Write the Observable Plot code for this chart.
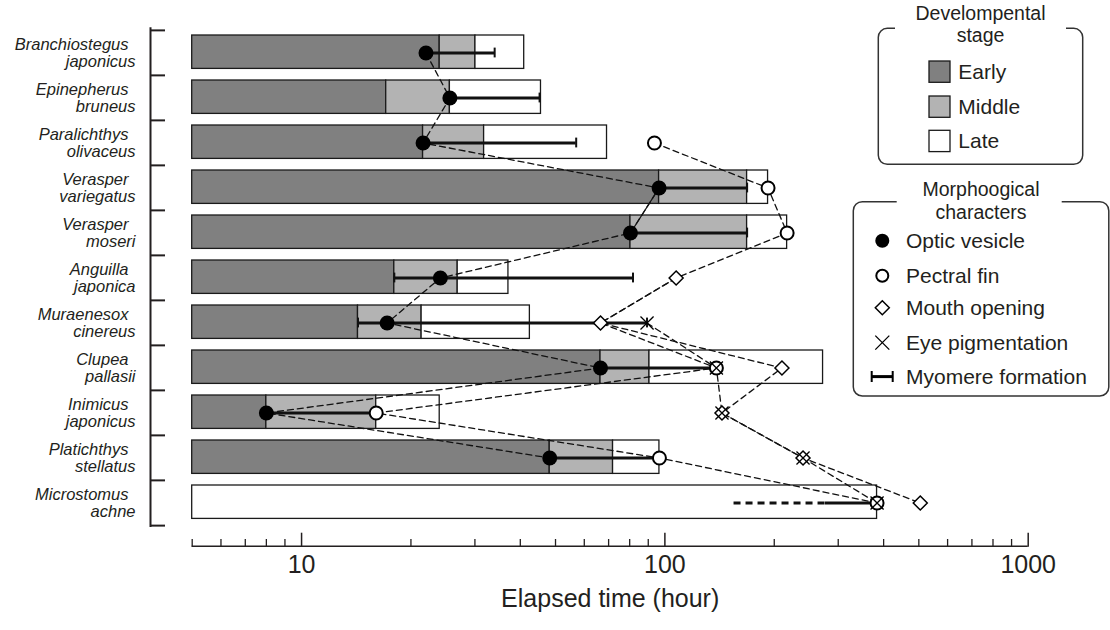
<!DOCTYPE html>
<html>
<head>
<meta charset="utf-8">
<script src="https://cdn.jsdelivr.net/npm/d3@7"></script>
<script src="https://cdn.jsdelivr.net/npm/@observablehq/plot@0.6"></script>
<style>
  body { margin: 0; background: #fff; }
  #chart { position: relative; width: 1110px; height: 630px; font-family: "Liberation Sans", Arial, sans-serif; color: #231f20; }
  #chart svg { position: absolute; left: 0; top: 0; overflow: visible; }
</style>
</head>
<body>
<div id="chart"></div>
<script>
// Species, top to bottom
const species = [
  "Branchiostegus japonicus", "Epinepherus bruneus", "Paralichthys olivaceus",
  "Verasper variegatus", "Verasper moseri", "Anguilla japonica", "Muraenesox cinereus",
  "Clupea pallasii", "Inimicus japonicus", "Platichthys stellatus", "Microstomus achne"
];

// Developmental stage boundaries (hours after fertilization)
const earlyEnd  = [24.0, 17.1, 21.6, 96.4, 80.4, 18.0, 14.3, 66.5, 8.0, 48.2, null];
const middleEnd = [30.1, 25.6, 31.8, 168.4, 168.4, 26.9, 21.4, 90.7, 16.05, 72.0, null];
const lateEnd   = [41.0, 45.6, 69.3, 192.3, 217.0, 37.1, 42.5, 272.5, 24.0, 96.6, 383.7];

// Onset of morphological characters (hours)
const opticVesicle    = [22.0, 25.6, 21.6, 96.4, 80.4, 24.1, 17.2, 66.5, 8.0, 48.2, null];
const pectoralFin     = [null, null, 93.6, 192.3, 217.0, 107.4, 66.5, 138.6, 16.05, 96.6, 383.7];
const mouthOpening    = [null, null, null, null, null, 107.4, 66.5, 210.0, 143.6, 240.0, 504.6];
const eyePigmentation = [null, null, null, null, null, null, 89.3, 138.6, 143.6, 240.0, 383.7];

// Myomere formation period (hours); the uncertain early part is dashed
const myomereStart     = [22.0, 25.6, 21.6, 96.4, 80.4, 18.0, 14.3, 66.5, 8.0, 48.2, 276.6];
const myomereEnd       = [34.0, 45.2, 57.0, 168.4, 168.4, 81.7, 89.3, 138.6, 16.05, 96.6, 383.7];
const myomereUncertain = [null, null, null, null, null, null, null, null, null, null, 155.0];

// Optic vesicle links drawn solid (same genus)
const solidOpticPair = ["Verasper variegatus", "Verasper moseri"];

const stages = ["Early", "Middle", "Late"];
const stageFills = ["#808080", "#b3b3b3", "#ffffff"];
const characters = ["Optic vesicle", "Pectral fin", "Mouth opening", "Eye pigmentation", "Myomere formation"];

const majorTicks = [10, 100, 1000];
const minorTicks = [5, 6, 7, 8, 9, 20, 30, 40, 50, 60, 70, 80, 90, 200, 300, 400, 500, 600, 700, 800, 900];
const xTitle = "Elapsed time (hour)";

const xMin = 5, xMax = 1000;
const ink = "#231f20";

// ---- derived tables ----
const stageRows = species.flatMap((s, i) => {
  const rows = [];
  if (earlyEnd[i] != null) rows.push({species: s, stage: "Early", from: xMin, to: earlyEnd[i]});
  if (middleEnd[i] != null) rows.push({species: s, stage: "Middle", from: earlyEnd[i], to: middleEnd[i]});
  rows.push({species: s, stage: "Late", from: middleEnd[i] ?? xMin, to: lateEnd[i]});
  return rows;
});

const seriesValues = [
  ["Optic vesicle", opticVesicle],
  ["Pectral fin", pectoralFin],
  ["Mouth opening", mouthOpening],
  ["Eye pigmentation", eyePigmentation]
];
const points = seriesValues.flatMap(([name, values]) =>
  species.map((s, i) => ({series: name, species: s, i, value: values[i]})).filter(d => d.value != null)
);
const of = name => points.filter(d => d.series === name);

const myomere = species.map((s, i) => ({species: s, start: myomereStart[i], end: myomereEnd[i], uncertain: myomereUncertain[i]}));
const myoCaps = [
  ...myomere.filter(d => d.uncertain == null).map(d => ({species: d.species, x: d.start})),
  ...myomere.map(d => ({species: d.species, x: d.end}))
];

// ---- layout ----
const W = 1110, H = 630;
const mTop = 28.3, mBottom = 104, mLeft = 191.7, mRight = 82.3;
const frameH = H - mTop - mBottom;
const step = frameH / species.length;
const axisGap = 20.7;          // distance of the time axis below the last row
const bracketX = 41.7;         // species bracket, px left of the time origin
const bracketTick = 15;        // length of the bracket ticks

const dash = {stroke: "#111", strokeWidth: 1.3, strokeDasharray: "6,4", fill: "none"};
const bracketTicks = {y: d => d, x1: xMin, x2: xMin, insetLeft: -bracketX, insetRight: bracketX - bracketTick, stroke: ink, strokeWidth: 2};

const plot = Plot.plot({
  width: W, height: H,
  marginTop: mTop, marginBottom: mBottom, marginLeft: mLeft, marginRight: mRight,
  style: {fontFamily: "'Liberation Sans', Arial, sans-serif", color: ink, background: "transparent", overflow: "visible"},
  x: {type: "log", domain: [xMin, xMax], axis: null},
  y: {type: "band", domain: species, padding: 0, axis: null},
  color: {domain: stages, range: stageFills},
  marks: [
    // species bracket
    Plot.ruleX([xMin], {dx: -bracketX, stroke: ink, strokeWidth: 2, strokeLinecap: "square"}),
    Plot.ruleY(species, {...bracketTicks, dy: -step / 2}),
    Plot.ruleY(species.slice(-1), {...bracketTicks, dy: step / 2}),

    // species names (genus / epithet)
    Plot.text(species, {y: d => d, text: d => d.split(" ")[0], frameAnchor: "left", textAnchor: "end", dx: -63.7, dy: -8.5, fontSize: 16.5, fontStyle: "italic", fill: ink}),
    Plot.text(species, {y: d => d, text: d => d.split(" ")[1], frameAnchor: "left", textAnchor: "end", dx: -56.7, dy: 8.5, fontSize: 16.5, fontStyle: "italic", fill: ink}),

    // developmental stage bars
    Plot.barX(stageRows, {y: "species", x1: "from", x2: "to", fill: "stage", stroke: "#1a1a1a", strokeWidth: 1.3, insetTop: 5, insetBottom: 6.6}),

    // myomere formation
    Plot.ruleY(myomere.filter(d => d.uncertain != null), {y: "species", x1: "uncertain", x2: "start", stroke: "#111", strokeWidth: 3, strokeDasharray: "7,5"}),
    Plot.ruleY(myomere, {y: "species", x1: "start", x2: "end", stroke: "#111", strokeWidth: 3}),
    Plot.tickX(myoCaps, {x: "x", y: "species", insetTop: 17.6, insetBottom: 17.6, stroke: "#111", strokeWidth: 2}),

    // links between species for each character
    Plot.line(points, {x: "value", y: "species", z: "series", ...dash}),
    Plot.line(of("Optic vesicle").filter(d => solidOpticPair.includes(d.species)), {x: "value", y: "species", stroke: "#111", strokeWidth: 1.3}),

    // character markers
    Plot.dot(of("Optic vesicle"), {x: "value", y: "species", r: 7.5, fill: "#000", stroke: "none"}),
    Plot.dot(of("Pectral fin").filter(d => mouthOpening[d.i] !== d.value), {x: "value", y: "species", r: 6.5, fill: "#fff", stroke: "#000", strokeWidth: 2}),
    Plot.dot(of("Mouth opening"), {x: "value", y: "species", symbol: "diamond2", r: 6.3, fill: "#fff", stroke: "#000", strokeWidth: 1.5}),
    Plot.dot(of("Eye pigmentation"), {x: "value", y: "species", symbol: "times", r: 6, stroke: "#000", strokeWidth: 1.3}),

    // time axis
    Plot.ruleY(species.slice(-1), {y: d => d, x1: xMin, x2: xMax, dy: step / 2 + axisGap, stroke: ink, strokeWidth: 1.5}),
    Plot.ruleX(minorTicks, {x: d => d, insetTop: frameH + axisGap - 7.7, insetBottom: -axisGap, stroke: ink, strokeWidth: 1.3}),
    Plot.ruleX(majorTicks, {x: d => d, insetTop: frameH + axisGap - 14, insetBottom: -axisGap, stroke: ink, strokeWidth: 1.5}),
    Plot.text(majorTicks, {x: d => d, text: d => String(d), frameAnchor: "bottom", dy: 46.5, fontSize: 25, fill: ink}),
    Plot.text([xTitle], {frameAnchor: "bottom", dy: 80, fontSize: 25, fill: ink})
  ]
});
document.getElementById("chart").appendChild(plot);

// ---- legends ----
const leg = d3.select("#chart").append("svg")
  .attr("width", W).attr("height", H)
  .style("font-family", "'Liberation Sans', Arial, sans-serif")
  .style("pointer-events", "none");

function frameWithGap(x0, y0, x1, y1, g0, g1, r) {
  return `M${g0},${y0}H${x0 + r}A${r},${r} 0 0 0 ${x0},${y0 + r}V${y1 - r}A${r},${r} 0 0 0 ${x0 + r},${y1}` +
         `H${x1 - r}A${r},${r} 0 0 0 ${x1},${y1 - r}V${y0 + r}A${r},${r} 0 0 0 ${x1 - r},${y0}H${g1}`;
}

// Developmental stage
leg.append("path").attr("d", frameWithGap(878.3, 28.3, 1082.7, 164.3, 895, 1066, 9))
  .attr("fill", "none").attr("stroke", "#333").attr("stroke-width", 1.5);
[["Develompental", 19.5], ["stage", 41.5]].forEach(([t, y]) =>
  leg.append("text").attr("x", 980.5).attr("y", y).attr("text-anchor", "middle")
    .attr("font-size", 19.5).attr("fill", ink).text(t));
const stageTop = [61, 96, 130.3], stageBase = [78.5, 113.5, 147.8];
stages.forEach((s, i) => {
  leg.append("rect").attr("x", 929).attr("y", stageTop[i]).attr("width", 21).attr("height", 21.3)
    .attr("fill", stageFills[i]).attr("stroke", "#1a1a1a").attr("stroke-width", 1.3);
  leg.append("text").attr("x", 958.3).attr("y", stageBase[i]).attr("font-size", 21).attr("fill", ink).text(s);
});

// Morphological characters
leg.append("path").attr("d", frameWithGap(853.3, 201.7, 1108.8, 396, 896.7, 1061.7, 9))
  .attr("fill", "none").attr("stroke", "#333").attr("stroke-width", 1.5);
[["Morphoogical", 196], ["characters", 218.5]].forEach(([t, y]) =>
  leg.append("text").attr("x", 981).attr("y", y).attr("text-anchor", "middle")
    .attr("font-size", 19.5).attr("fill", ink).text(t));
const charY = [240.8, 275.8, 307.8, 342.6, 376.6];
const sx = 882.3;
characters.forEach((c, i) => {
  const cy = charY[i];
  const g = leg.append("g");
  if (i === 0) g.append("circle").attr("cx", sx).attr("cy", cy).attr("r", 7).attr("fill", "#000");
  if (i === 1) g.append("circle").attr("cx", sx).attr("cy", cy).attr("r", 6).attr("fill", "#fff").attr("stroke", "#000").attr("stroke-width", 2);
  if (i === 2) g.append("path").attr("d", `M${sx},${cy - 7}L${sx + 7},${cy}L${sx},${cy + 7}L${sx - 7},${cy}Z`).attr("fill", "#fff").attr("stroke", "#000").attr("stroke-width", 1.5);
  if (i === 3) g.append("path").attr("d", `M${sx - 7},${cy - 7}L${sx + 7},${cy + 7}M${sx - 7},${cy + 7}L${sx + 7},${cy - 7}`).attr("stroke", "#000").attr("stroke-width", 1.3);
  if (i === 4) {
    g.append("path").attr("d", `M${sx - 10.6},${cy}H${sx + 10.4}`).attr("stroke", "#000").attr("stroke-width", 3);
    g.append("path").attr("d", `M${sx - 10.6},${cy - 5.5}V${cy + 5.5}M${sx + 10.4},${cy - 5.5}V${cy + 5.5}`).attr("stroke", "#000").attr("stroke-width", 2);
  }
  leg.append("text").attr("x", 906).attr("y", cy + 7.5).attr("font-size", 21).attr("fill", ink).text(c);
});
</script>
</body>
</html>
